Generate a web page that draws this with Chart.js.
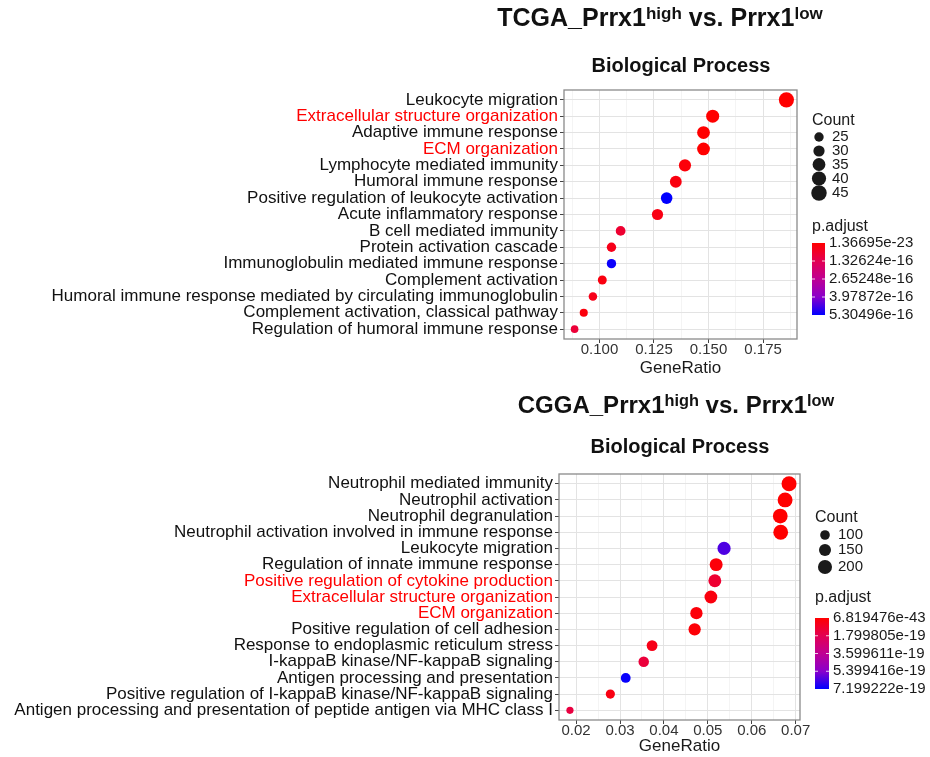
<!DOCTYPE html>
<html>
<head>
<meta charset="utf-8">
<script src="https://cdn.jsdelivr.net/npm/chart.js@4.4.1/dist/chart.umd.min.js"></script>
<style>
  body { margin: 0; background: #fff; }
  #wrap { position: relative; width: 930px; height: 757px; font-family: "Liberation Sans", Arial, sans-serif; }
  canvas { position: absolute; left: 0; }
  .ttl { position: absolute; font-weight: bold; white-space: nowrap; transform: translateX(-50%); color: #111; line-height: 1; }
  .ttl sup { font-size: 0.68em; position: relative; top: -0.42em; vertical-align: baseline; }
</style>
</head>
<body>
<div id="wrap">
  <canvas id="tcga" width="930" height="380" style="top:0"></canvas>
  <canvas id="cgga" width="930" height="377" style="top:380px"></canvas>
  <div class="ttl" style="left:660px; top:5px; font-size:25px">TCGA_Prrx1<sup>high</sup> vs. Prrx1<sup>low</sup></div>
  <div class="ttl" style="left:681px; top:55px; font-size:20px">Biological Process</div>
  <div class="ttl" style="left:676px; top:393px; font-size:24px">CGGA_Prrx1<sup>high</sup> vs. Prrx1<sup>low</sup></div>
  <div class="ttl" style="left:680px; top:436px; font-size:20px">Biological Process</div>
</div>
<script>
Chart.defaults.font.family = '"Liberation Sans", Arial, sans-serif';

// ---- TCGA ----
const tcgaTerms = [
  'Leukocyte migration',
  'Extracellular structure organization',
  'Adaptive immune response',
  'ECM organization',
  'Lymphocyte mediated immunity',
  'Humoral immune response',
  'Positive regulation of leukocyte activation',
  'Acute inflammatory response',
  'B cell mediated immunity',
  'Protein activation cascade',
  'Immunoglobulin mediated immune response',
  'Complement activation',
  'Humoral immune response mediated by circulating immunoglobulin',
  'Complement activation, classical pathway',
  'Regulation of humoral immune response'
];
const tcgaRatio = [0.1857, 0.1519, 0.1477, 0.1477, 0.1392, 0.1350, 0.1308, 0.1266, 0.1097, 0.1055, 0.1055, 0.1013, 0.0970, 0.0928, 0.0886];
const tcgaCount = [44, 36, 35, 35, 33, 32, 31, 30, 26, 25, 25, 24, 23, 22, 21];
const tcgaPadj = [1.4e-23, 2.0e-20, 5.0e-20, 3.0e-19, 1.5e-17, 2.5e-17, 5.3e-16, 3.0e-17, 8.0e-17, 4.0e-17, 5.2e-16, 2.5e-17, 4.0e-17, 2.0e-17, 9.0e-17];
const tcgaHighlight = ['Extracellular structure organization', 'ECM organization'];
const tcgaXLabels = ['0.100', '0.125', '0.150', '0.175'];
const tcgaXMinor = [0.0875, 0.1125, 0.1375, 0.1625, 0.1875];
const tcgaCountKeys = [25, 30, 35, 40, 45];
const tcgaPadjKeys = ['1.36695e-23', '1.32624e-16', '2.65248e-16', '3.97872e-16', '5.30496e-16'];

// ---- CGGA ----
const cggaTerms = [
  'Neutrophil mediated immunity',
  'Neutrophil activation',
  'Neutrophil degranulation',
  'Neutrophil activation involved in immune response',
  'Leukocyte migration',
  'Regulation of innate immune response',
  'Positive regulation of cytokine production',
  'Extracellular structure organization',
  'ECM organization',
  'Positive regulation of cell adhesion',
  'Response to endoplasmic reticulum stress',
  'I-kappaB kinase/NF-kappaB signaling',
  'Antigen processing and presentation',
  'Positive regulation of I-kappaB kinase/NF-kappaB signaling',
  'Antigen processing and presentation of peptide antigen via MHC class I'
];
const cggaRatio = [0.0685, 0.0676, 0.0665, 0.0666, 0.0537, 0.0519, 0.0516, 0.0507, 0.0474, 0.0470, 0.0373, 0.0354, 0.0313, 0.0278, 0.0186];
const cggaCount = [226, 223, 219, 220, 177, 171, 170, 167, 156, 155, 123, 117, 103, 92, 61];
const cggaPadj = [1e-40, 1e-35, 1e-33, 1e-32, 6.2e-19, 2e-20, 1.1e-19, 3e-20, 2e-20, 1.5e-20, 5e-20, 1.3e-19, 7.1e-19, 4e-20, 1.4e-19];
const cggaHighlight = ['Positive regulation of cytokine production', 'Extracellular structure organization', 'ECM organization'];
const cggaXLabels = ['0.02', '0.03', '0.04', '0.05', '0.06', '0.07'];
const cggaXMinor = [0.025, 0.035, 0.045, 0.055, 0.065];
const cggaCountKeys = [100, 150, 200];
const cggaPadjKeys = ['6.819476e-43', '1.799805e-19', '3.599611e-19', '5.399416e-19', '7.199222e-19'];

// red -> blue, roughly the Lab blend ggplot uses
const gradStops = ['#FF0000', '#E30052', '#BF0093', '#8A00CB', '#0000FF'];

let hexRgb = h => [1, 3, 5].map(i => parseInt(h.substr(i, 2), 16));

let gradColor = t => {
  t = Math.min(1, Math.max(0, t));
  let seg = t * (gradStops.length - 1);
  let i = Math.min(Math.floor(seg), gradStops.length - 2);
  let f = seg - i;
  let a = hexRgb(gradStops[i]), b = hexRgb(gradStops[i + 1]);
  let c = a.map((v, k) => Math.round(v + (b[k] - v) * f));
  return `rgb(${c[0]}, ${c[1]}, ${c[2]})`;
};

// dot area grows linearly with count
let sizeScale = (cA, rA, cB, rB) => c => Math.sqrt(Math.max(1, rA * rA + (c - cA) / (cB - cA) * (rB * rB - rA * rA)));

let panelBorder = {
  id: 'panelBorder',
  afterDraw(chart) {
    let { left, top, width, height } = chart.chartArea;
    let c = chart.ctx;
    c.save();
    c.strokeStyle = '#8a8a8a';
    c.lineWidth = 1.3;
    c.strokeRect(left, top, width, height);
    c.restore();
  }
};

let sideLegend = o => ({
  id: 'sideLegend',
  afterDraw(chart) {
    let c = chart.ctx;
    c.save();
    c.fillStyle = '#1a1a1a';
    c.textBaseline = 'middle';
    c.textAlign = 'left';
    c.font = '16px "Liberation Sans", Arial, sans-serif';
    c.fillText('Count', o.x, o.countY);
    c.fillText('p.adjust', o.x, o.padjY);

    c.font = '15px "Liberation Sans", Arial, sans-serif';
    o.countKeys.forEach((n, i) => {
      c.beginPath();
      c.arc(o.dotX, o.dotY[i], o.size(n), 0, Math.PI * 2);
      c.fill();
      c.fillText(String(n), o.labelX, o.dotY[i]);
    });

    let g = c.createLinearGradient(0, o.barTop, 0, o.barBottom);
    gradStops.forEach((s, i) => g.addColorStop(i / (gradStops.length - 1), s));
    c.fillStyle = g;
    c.fillRect(o.x, o.barTop, o.barW, o.barBottom - o.barTop);

    let step = (o.barBottom - o.barTop) / (o.padjKeys.length - 1);
    c.strokeStyle = 'rgba(255,255,255,0.8)';
    c.lineWidth = 1;
    c.fillStyle = '#1a1a1a';
    o.padjKeys.forEach((s, i) => {
      let y = o.barTop + step * i;
      if (i > 0 && i < o.padjKeys.length - 1) {
        c.beginPath();
        c.moveTo(o.x, y); c.lineTo(o.x + 3, y);
        c.moveTo(o.x + o.barW - 3, y); c.lineTo(o.x + o.barW, y);
        c.stroke();
      }
      c.fillText(s, o.x + o.barW + 4, y);
    });
    c.restore();
  }
});

let dotPlot = (id, p) => {
  let lo = parseFloat(p.padjKeys[0]);
  let hi = parseFloat(p.padjKeys[p.padjKeys.length - 1]);
  let rMin = Math.min(...p.ratio), rMax = Math.max(...p.ratio);
  let pad = (rMax - rMin) * 0.05;
  let majors = p.xLabels.map(Number);
  let gridVals = majors.concat(p.xMinor).sort((a, b) => a - b);
  let isMajor = v => majors.some(m => Math.abs(m - v) < 1e-9);

  return new Chart(document.getElementById(id), {
    type: 'bubble',
    data: {
      datasets: [{
        data: p.terms.map((t, i) => ({ x: p.ratio[i], y: i, r: p.size(p.count[i]) })),
        backgroundColor: p.padj.map(v => gradColor((v - lo) / (hi - lo))),
        borderWidth: 0
      }]
    },
    options: {
      responsive: false,
      animation: false,
      events: [],
      layout: { padding: { left: 0, top: p.top, right: p.right, bottom: 0 } },
      plugins: { legend: { display: false }, tooltip: { enabled: false } },
      scales: {
        x: {
          type: 'linear',
          min: rMin - pad,
          max: rMax + pad,
          afterBuildTicks: s => { s.ticks = gridVals.map(v => ({ value: v })); },
          afterFit: s => { s.height = p.xAxisH; },
          ticks: {
            autoSkip: false,
            maxRotation: 0,
            padding: p.xTickPad,
            color: '#333',
            font: { size: 15 },
            callback: v => {
              let k = majors.findIndex(m => Math.abs(m - v) < 1e-9);
              return k < 0 ? '' : p.xLabels[k];
            }
          },
          grid: {
            color: ctx => isMajor(ctx.tick.value) ? '#E3E3E3' : '#F1F1F1',
            lineWidth: ctx => isMajor(ctx.tick.value) ? 1 : 0.8,
            tickColor: ctx => isMajor(ctx.tick.value) ? '#444' : 'rgba(0,0,0,0)',
            tickLength: 4
          },
          border: { display: false },
          title: {
            display: true,
            text: 'GeneRatio',
            color: '#1a1a1a',
            font: { size: 17 },
            padding: { top: 0, bottom: p.titlePad }
          }
        },
        y: {
          type: 'linear',
          reverse: true,
          min: -0.6,
          max: p.terms.length - 0.4,
          afterBuildTicks: s => { s.ticks = p.terms.map((t, i) => ({ value: i })); },
          afterFit: s => { s.width = p.left; },
          ticks: {
            autoSkip: false,
            padding: 2,
            font: { size: 17 },
            color: ctx => p.highlight.includes(p.terms[ctx.index]) ? '#FF0000' : '#111',
            callback: (v, i) => p.terms[i]
          },
          grid: { color: '#E3E3E3', tickColor: '#444', tickLength: 4 },
          border: { display: false }
        }
      }
    },
    plugins: [panelBorder, sideLegend(p.legend)]
  });
};

let tcgaSize = sizeScale(21, 3.8, 44, 7.6);
let cggaSize = sizeScale(61, 3.6, 226, 7.5);

dotPlot('tcga', {
  terms: tcgaTerms, ratio: tcgaRatio, count: tcgaCount, padj: tcgaPadj,
  highlight: tcgaHighlight, xLabels: tcgaXLabels, xMinor: tcgaXMinor, padjKeys: tcgaPadjKeys,
  size: tcgaSize,
  left: 564, top: 90, right: 133, xAxisH: 41, xTickPad: -2, titlePad: 1,
  legend: {
    x: 812, countY: 121, dotX: 819, dotY: [137, 151, 164.5, 178.5, 193], labelX: 832,
    countKeys: tcgaCountKeys, size: tcgaSize,
    padjY: 227, barTop: 243, barBottom: 315, barW: 13, padjKeys: tcgaPadjKeys
  }
});

dotPlot('cgga', {
  terms: cggaTerms, ratio: cggaRatio, count: cggaCount, padj: cggaPadj,
  highlight: cggaHighlight, xLabels: cggaXLabels, xMinor: cggaXMinor, padjKeys: cggaPadjKeys,
  size: cggaSize,
  left: 559, top: 94, right: 130, xAxisH: 37, xTickPad: -2, titlePad: 0,
  legend: {
    x: 815, countY: 138, dotX: 825, dotY: [155, 170, 187], labelX: 838,
    countKeys: cggaCountKeys, size: cggaSize,
    padjY: 218, barTop: 238, barBottom: 309, barW: 14, padjKeys: cggaPadjKeys
  }
});
</script>
</body>
</html>
